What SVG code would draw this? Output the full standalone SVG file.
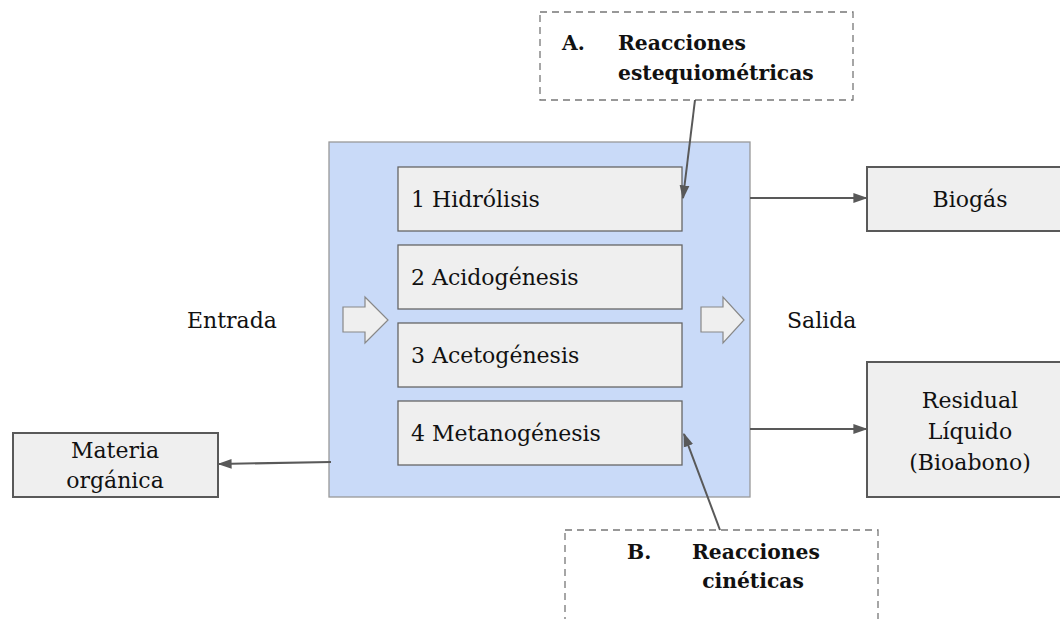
<svg xmlns="http://www.w3.org/2000/svg" width="1060" height="619" viewBox="0 0 1060 619">
<style>
text{font-family:"DejaVu Serif","Liberation Serif",serif;fill:#111;font-size:22px}
.b{font-weight:bold;font-size:20.3px}
.step{fill:#efefef;stroke:#666;stroke-width:1.3}
.out{fill:#efefef;stroke:#595959;stroke-width:2}
.dash{fill:#fff;stroke:#777;stroke-width:1.3;stroke-dasharray:7 5}
.conn{stroke:#595959;stroke-width:2;fill:none}
.blk{fill:#efefef;stroke:#888;stroke-width:1.2}
</style>
<defs>
<marker id="ah" viewBox="0 0 10 10" refX="9" refY="5" markerWidth="7" markerHeight="7" orient="auto" markerUnits="strokeWidth">
<path d="M0,1.5 L10,5 L0,8.5 z" fill="#595959"/>
</marker>
</defs>
<rect width="1060" height="619" fill="#fff"/>
<g id="reactor">
<rect x="329" y="142" width="421" height="355" fill="#c9daf8" stroke="#999" stroke-width="1.3"/>
<path class="blk" d="M343,307 H365 V297 L388,320 L365,343 V332 H343 Z"/>
<path class="blk" d="M701,307 H723 V297 L744,320 L723,343 V332 H701 Z"/>
</g>
<g id="step1"><rect class="step" x="398" y="167" width="284" height="64"/><text x="411" y="207">1 Hidrólisis</text></g>
<g id="step2"><rect class="step" x="398" y="245" width="284" height="64"/><text x="411" y="285">2 Acidogénesis</text></g>
<g id="step3"><rect class="step" x="398" y="323" width="284" height="64"/><text x="411" y="363">3 Acetogénesis</text></g>
<g id="step4"><rect class="step" x="398" y="401" width="284" height="64"/><text x="411" y="441">4 Metanogénesis</text></g>
<g id="entrada"><text x="187" y="328">Entrada</text></g>
<g id="salida"><text x="787" y="328">Salida</text></g>
<g id="biogas"><rect class="out" x="867" y="167" width="200" height="64"/><text x="970" y="207" text-anchor="middle">Biogás</text></g>
<g id="residual"><rect class="out" x="867" y="362" width="200" height="135"/>
<text x="970" y="408" text-anchor="middle">Residual</text>
<text x="970" y="439" text-anchor="middle">Líquido</text>
<text x="970" y="470" text-anchor="middle">(Bioabono)</text></g>
<g id="materia"><rect class="out" x="13" y="433" width="205" height="64"/>
<text x="115" y="458" text-anchor="middle">Materia</text>
<text x="115" y="488" text-anchor="middle">orgánica</text></g>
<g id="boxA"><rect class="dash" x="540" y="12" width="313" height="88"/>
<text class="b" x="562" y="50">A.</text>
<text class="b" x="618" y="50">Reacciones</text>
<text class="b" x="618" y="80">estequiométricas</text></g>
<g id="boxB"><rect class="dash" x="565" y="530" width="313" height="100"/>
<text class="b" x="627" y="559">B.</text>
<text class="b" x="692" y="559">Reacciones</text>
<text class="b" x="753" y="588" text-anchor="middle">cinéticas</text></g>
<g id="connectors">
<line class="conn" x1="750" y1="198" x2="866" y2="198" marker-end="url(#ah)"/>
<line class="conn" x1="750" y1="429" x2="866" y2="429" marker-end="url(#ah)"/>
<line class="conn" x1="331" y1="462" x2="219" y2="464" marker-end="url(#ah)"/>
<line class="conn" x1="695" y1="100" x2="683" y2="198" marker-end="url(#ah)"/>
<line class="conn" x1="720" y1="530" x2="684" y2="434" marker-end="url(#ah)"/>
</g>
</svg>
